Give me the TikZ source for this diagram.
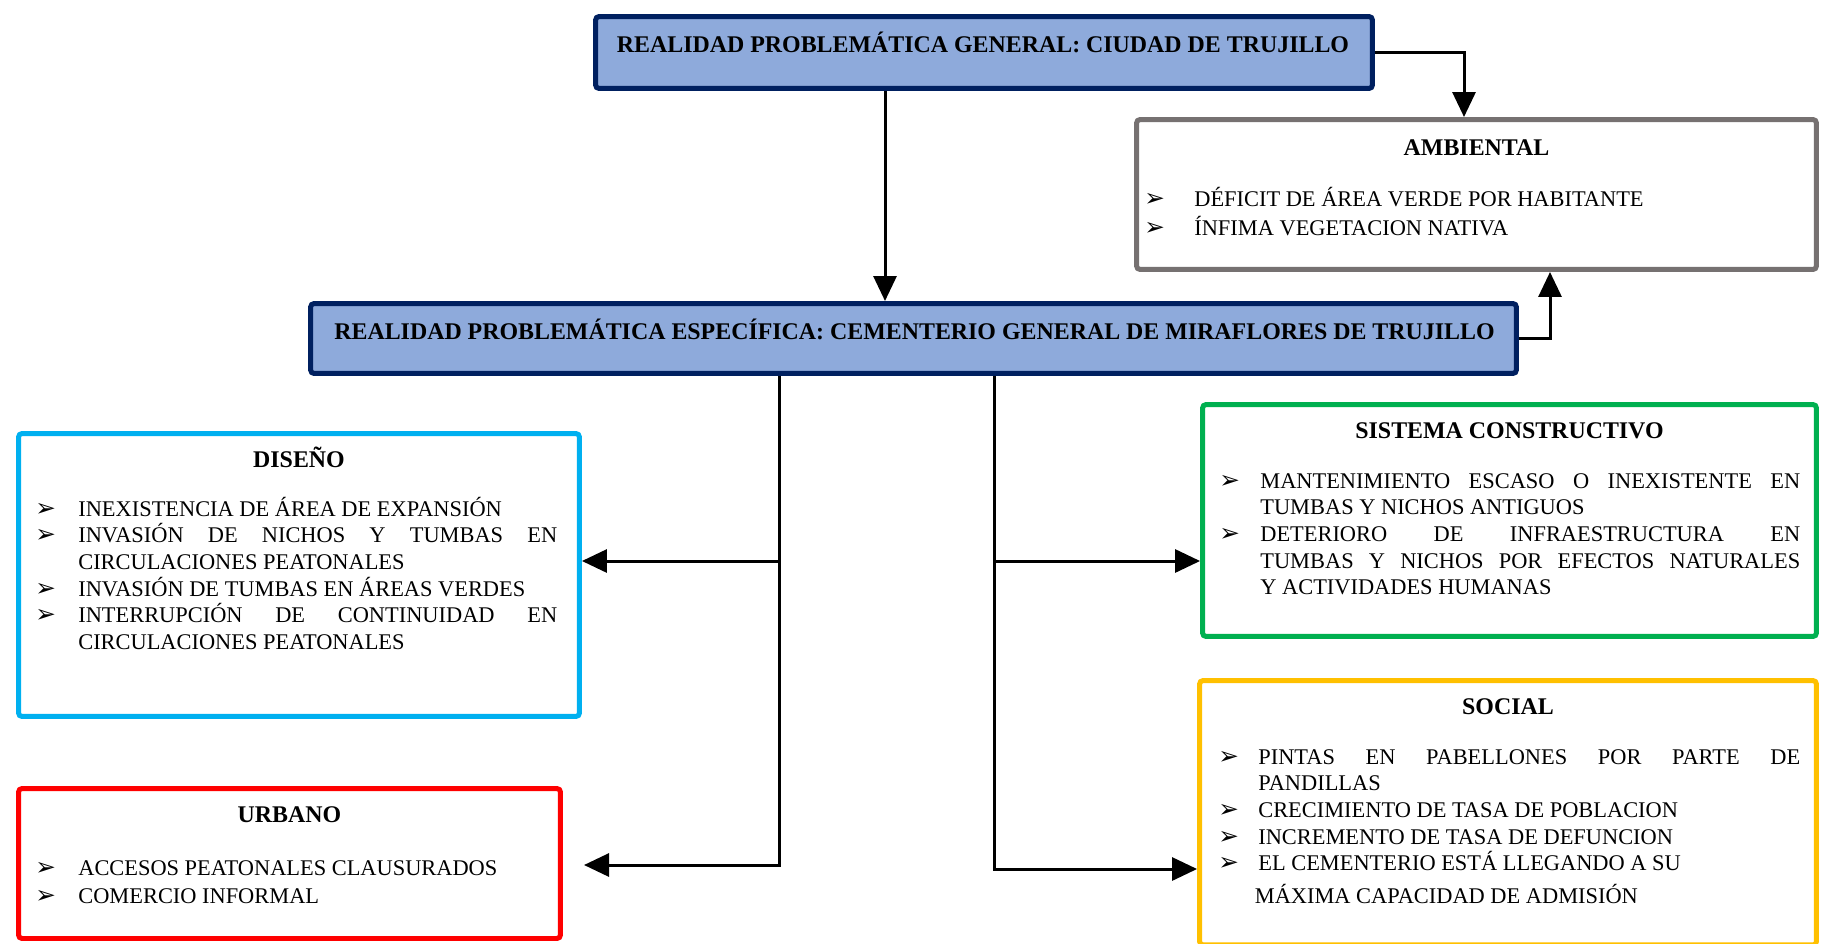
\documentclass[tikz,border=0pt]{standalone}
\usepackage{fontspec}
\setmainfont{Liberation Serif}
\newfontfamily\symfont{DejaVu Sans}
\usetikzlibrary{arrows.meta,positioning}

\definecolor{azulosc}{RGB}{0,32,96}
\definecolor{azulcl}{RGB}{142,170,219}
\definecolor{gris}{RGB}{118,113,113}
\definecolor{celeste}{RGB}{0,176,240}
\definecolor{rojo}{RGB}{255,0,0}
\definecolor{verde}{RGB}{0,176,80}
\definecolor{naranja}{RGB}{255,192,0}

\hyphenpenalty=10000
\exhyphenpenalty=10000
\hbadness=10000

\newlength{\sangria}
\setlength{\sangria}{0.86cm}
\newcommand{\vineta}[1]{\noindent\hangindent=\sangria\hangafter=1\makebox[\sangria][l]{\symfont\fontsize{14}{14}\selectfont\char"27A2}#1\par}

\begin{document}
\begin{tikzpicture}[x=0.02cm, y=-0.02cm,
    caja/.style={draw, line width=0.1cm, rounded corners=2pt, fill=white},
    titulo/.style={font=\fontsize{13.6}{16}\selectfont\bfseries, inner sep=0pt},
    lista/.style={font=\fontsize{12.75}{15.2}\selectfont, inner sep=0pt, anchor=base west, align=justify},
    flecha/.style={line width=0.06cm, -{Triangle[length=0.5cm,width=0.46cm]}}]

\useasboundingbox (0,0) rectangle (1821,943);

% cajas
\node[caja, draw=azulosc, fill=azulcl, minimum width=15.54cm, minimum height=1.44cm] (gen) at (984,52.5) {};
\node[caja, draw=azulosc, fill=azulcl, minimum width=24.12cm, minimum height=1.40cm] (spec) at (913.5,338.5) {};
\node[caja, draw=gris, minimum width=13.6cm, minimum height=3.0cm] (amb) at (1476.5,194.5) {};
\node[caja, draw=celeste, minimum width=11.22cm, minimum height=5.66cm] (dis) at (299,575) {};
\node[caja, draw=rojo, minimum width=10.84cm, minimum height=3.0cm] (urb) at (289.5,863.5) {};
\node[caja, draw=verde, minimum width=12.28cm, minimum height=4.64cm] (sis) at (1509.5,520.5) {};
\node[caja, draw=naranja, minimum width=12.34cm, minimum height=5.29cm] (soc) at (1508,812.75) {};

% titulos
\node[titulo] (gentxt) at (983,42) {REALIDAD PROBLEMÁTICA GENERAL: CIUDAD DE TRUJILLO};
\node[titulo] (spectxt) at (914.5,329) {REALIDAD PROBLEMÁTICA ESPECÍFICA: CEMENTERIO GENERAL DE MIRAFLORES DE TRUJILLO};
\node[titulo, below=0.76cm of amb.north, anchor=base] (ambtit) {AMBIENTAL};
\node[titulo, below=0.72cm of dis.north, anchor=base] (distit) {DISEÑO};
\node[titulo, below=0.72cm of urb.north, anchor=base] (urbtit) {URBANO};
\node[titulo, below=0.72cm of sis.north, anchor=base] (sistit) {SISTEMA CONSTRUCTIVO};
\node[titulo, below=0.72cm of soc.north, anchor=base] (soctit) {SOCIAL};

% listas
\node[lista, text width=12cm, font=\fontsize{12.75}{16.6}\selectfont] (amblst) at (1144,206) {\setlength{\sangria}{1.0cm}%
  \vineta{DÉFICIT DE ÁREA VERDE POR HABITANTE}%
  \vineta{ÍNFIMA VEGETACION NATIVA}};
\node[lista, text width=10.44cm] (dislst) at (35,516) {%
  \vineta{INEXISTENCIA DE ÁREA DE EXPANSIÓN}%
  \vineta{INVASIÓN DE NICHOS Y TUMBAS EN\linebreak CIRCULACIONES PEATONALES}%
  \vineta{INVASIÓN DE TUMBAS EN ÁREAS VERDES}%
  \vineta{INTERRUPCIÓN DE CONTINUIDAD EN\linebreak CIRCULACIONES PEATONALES}};
\node[lista, text width=10cm, font=\fontsize{12.75}{16}\selectfont] (urblst) at (35,875) {%
  \vineta{ACCESOS PEATONALES CLAUSURADOS}%
  \vineta{COMERCIO INFORMAL}};
\node[lista, text width=11.62cm] (sislst) at (1219,488) {\setlength{\sangria}{0.82cm}%
  \vineta{MANTENIMIENTO ESCASO O INEXISTENTE EN\linebreak TUMBAS Y NICHOS ANTIGUOS}%
  \vineta{DETERIORO DE INFRAESTRUCTURA EN\linebreak TUMBAS Y NICHOS POR EFECTOS NATURALES\linebreak Y ACTIVIDADES HUMANAS}};
\node[lista, text width=11.64cm] (soclst) at (1218,764) {\setlength{\sangria}{0.8cm}%
  \vineta{PINTAS EN PABELLONES POR PARTE DE\linebreak PANDILLAS}%
  \vineta{CRECIMIENTO DE TASA DE POBLACION}%
  \vineta{INCREMENTO DE TASA DE DEFUNCION}%
  \vineta{EL CEMENTERIO ESTÁ LLEGANDO A SU\\[3.5pt]\hspace*{-2pt}MÁXIMA CAPACIDAD DE ADMISIÓN}};

% conectores
\coordinate (g1) at (885,0);
\coordinate (a1) at (1464,0);
\coordinate (a2) at (1550,0);
\coordinate (t1) at (779,561);
\coordinate (u1) at (584,865);
\coordinate (t3) at (994,561);
\coordinate (t4) at (994,869);

\draw[flecha] (gen.south -| g1) -- (spec.north -| g1);
\draw[flecha] (gen.east) -| (amb.north -| a1);
\draw[flecha] (spec.east) -| (amb.south -| a2);
\draw[flecha] (spec.south -| t1) |- (u1);
\draw[flecha] (t1) -- (t1 -| dis.east);
\draw[flecha] (spec.south -| t3) |- (t4 -| soc.west);
\draw[flecha] (t3) -- (t3 -| sis.west);

\end{tikzpicture}
\end{document}
